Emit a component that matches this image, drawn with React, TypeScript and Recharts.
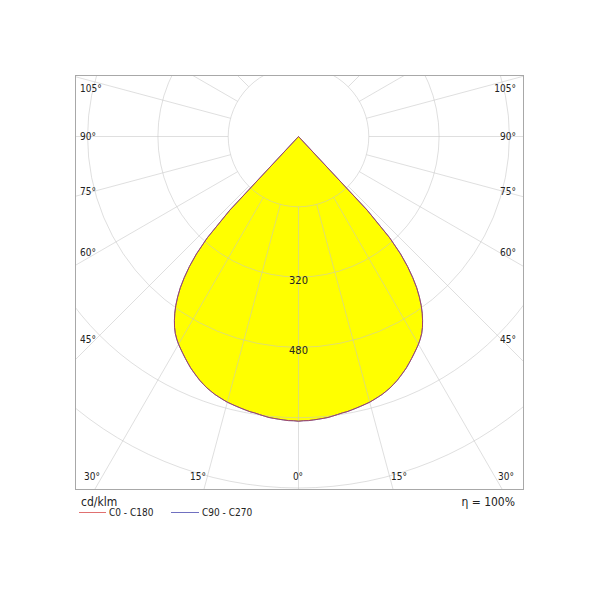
import React from 'react';
import { RadarChart, Radar, PolarGrid, PolarAngleAxis, PolarRadiusAxis } from 'recharts';

// luminous intensity (cd/klm), gamma 0..44 in 1 deg steps, 0 beyond
const gammaSteps = [
  0, 1, 2, 3, 4, 5, 6, 7, 8, 9, 10, 11, 12, 13, 14, 15, 16, 17, 18, 19, 20, 21, 22,
  23, 24, 25, 26, 27, 28, 29, 30, 31, 32, 33, 34, 35, 36, 37, 38, 39, 40, 41, 42, 43, 44,
];
const c0c180 = [
  648, 647, 647, 646, 645, 644, 643, 641, 639, 637, 636, 634, 632, 630, 628, 626, 623, 620, 617, 613, 609, 604, 599,
  593, 587, 581, 574, 567, 560, 553, 546, 538, 529, 518, 505, 491, 475, 457, 437, 413, 386, 354, 310, 229, 0,
];
const c90c270 = [
  648, 647, 647, 646, 645, 644, 643, 641, 639, 637, 636, 634, 632, 630, 628, 626, 623, 620, 617, 613, 609, 604, 599,
  593, 587, 581, 574, 567, 560, 553, 546, 538, 529, 518, 505, 491, 475, 457, 437, 413, 386, 354, 310, 229, 0,
];

const radiusTicks = [0, 160, 320, 480, 640, 800];
const labelledRadii = [320, 480];
const gridAngles = [0, 15, 30, 45, 60, 75, 90, 105, 120, 135, 150, 165, 180, 195, 210, 225, 240, 255, 270, 285, 300, 315, 330, 345];

const sideLabels = ['105°', '90°', '75°', '60°', '45°'];
const bottomLabels = ['30°', '15°', '0°', '15°', '30°'];
const seriesNames = ['C0 - C180', 'C90 - C270'];
const unitLabel = 'cd/klm';
const etaLabel = 'η = 100%';

// 1 deg rows round the full circle, both halves mirrored
const STEP = 1;
const rows = Array.from({ length: 360 / STEP }, (_, i) => {
  const g = i * STEP;
  const side = g <= 180 ? g : 360 - g;
  const k = gammaSteps.indexOf(side);
  return {
    g: 'g' + g,
    c0: k >= 0 ? c0c180[k] : 0,
    c90: k >= 0 ? c90c270[k] : 0,
  };
});

const CX = 298.5;
const CY = 136.5;
const OUTER = 351.5;
const FONT = '"DejaVu Sans Condensed", "DejaVu Sans", sans-serif';

const sideY = [89, 137, 192, 253, 340];
const bottomX = [92, 198, 298, 399, 506];

// radar puts each point one band past its category start, so start one step early
const chartProps = {
  width: 600,
  height: 600,
  data: rows,
  cx: CX,
  cy: CY,
  startAngle: -90 - STEP,
  endAngle: 270 - STEP,
  margin: { top: 0, right: 0, bottom: 0, left: 0 },
};

const layer: React.CSSProperties = { position: 'absolute', left: -76, top: -76 };

const RadiusTick = (p: any) => {
  const v = Number(p.payload?.value);
  if (!labelledRadii.includes(v)) return <g />;
  return (
    <text x={p.x} y={p.y + 7} textAnchor="middle" fontSize={11} fill="#222" fontFamily={FONT}>
      {v}
    </text>
  );
};

export default function App() {
  return (
    <div style={{ position: 'absolute', left: 0, top: 0, width: 600, height: 600, background: '#fff', fontFamily: FONT, color: '#222' }}>
      <div style={{ position: 'absolute', left: 75, top: 75, width: 447, height: 413, border: '1px solid #a8a8a8', overflow: 'hidden' }}>
        {/* fill */}
        <div style={layer}>
          <RadarChart {...chartProps} outerRadius={OUTER}>
            <PolarAngleAxis dataKey="g" type="category" tick={false} axisLine={false} />
            <PolarRadiusAxis type="number" domain={[0, 800]} ticks={radiusTicks} tick={false} axisLine={false} />
            <Radar dataKey="c0" stroke="none" fill="#ffff00" fillOpacity={1} isAnimationActive={false} />
          </RadarChart>
        </div>
        {/* radial grid lines, starting at the first ring */}
        <div style={layer}>
          <RadarChart {...chartProps} innerRadius={OUTER / 5} outerRadius={440}>
            <PolarAngleAxis dataKey="g" type="category" tick={false} axisLine={false} />
            <PolarRadiusAxis type="number" domain={[0, 800]} tick={false} axisLine={false} />
            <PolarGrid gridType="circle" polarAngles={gridAngles.map((a) => a - 90)} polarRadius={[]} stroke="#c4c4c4" strokeOpacity={0.55} />
          </RadarChart>
        </div>
        {/* rings, outlines, radius labels */}
        <div style={layer}>
          <RadarChart {...chartProps} outerRadius={OUTER}>
            <PolarGrid gridType="circle" radialLines={false} stroke="#c4c4c4" strokeOpacity={0.55} />
            <PolarAngleAxis dataKey="g" type="category" tick={false} axisLine={false} />
            <PolarRadiusAxis type="number" domain={[0, 800]} ticks={radiusTicks} angle={-90} axisLine={false} tickLine={false} tick={RadiusTick} />
            <Radar dataKey="c90" stroke="#5050c0" strokeWidth={1} fill="none" isAnimationActive={false} />
            <Radar dataKey="c0" stroke="#c04040" strokeWidth={1} strokeOpacity={0.7} fill="none" isAnimationActive={false} />
          </RadarChart>
        </div>
      </div>

      {sideLabels.map((t, i) => (
        <div key={'l' + i} style={{ position: 'absolute', left: 80, top: sideY[i] - 7, fontSize: 10, lineHeight: '14px' }}>{t}</div>
      ))}
      {sideLabels.map((t, i) => (
        <div key={'r' + i} style={{ position: 'absolute', right: 84, top: sideY[i] - 7, fontSize: 10, lineHeight: '14px', textAlign: 'right' }}>{t}</div>
      ))}
      {bottomLabels.map((t, i) => (
        <div key={'b' + i} style={{ position: 'absolute', left: bottomX[i] - 20, width: 40, top: 470, fontSize: 10, lineHeight: '14px', textAlign: 'center' }}>{t}</div>
      ))}

      <div style={{ position: 'absolute', left: 81, top: 494, fontSize: 12, lineHeight: '16px' }}>{unitLabel}</div>
      <div style={{ position: 'absolute', right: 85, top: 494, fontSize: 12, lineHeight: '16px', textAlign: 'right' }}>{etaLabel}</div>

      <div style={{ position: 'absolute', left: 79, top: 512, width: 27, height: 0, borderTop: '1px solid #e07070' }} />
      <div style={{ position: 'absolute', left: 109, top: 506, fontSize: 10, lineHeight: '14px' }}>{seriesNames[0]}</div>
      <div style={{ position: 'absolute', left: 171, top: 512, width: 28, height: 0, borderTop: '1px solid #7070c0' }} />
      <div style={{ position: 'absolute', left: 202, top: 506, fontSize: 10, lineHeight: '14px' }}>{seriesNames[1]}</div>
    </div>
  );
}
